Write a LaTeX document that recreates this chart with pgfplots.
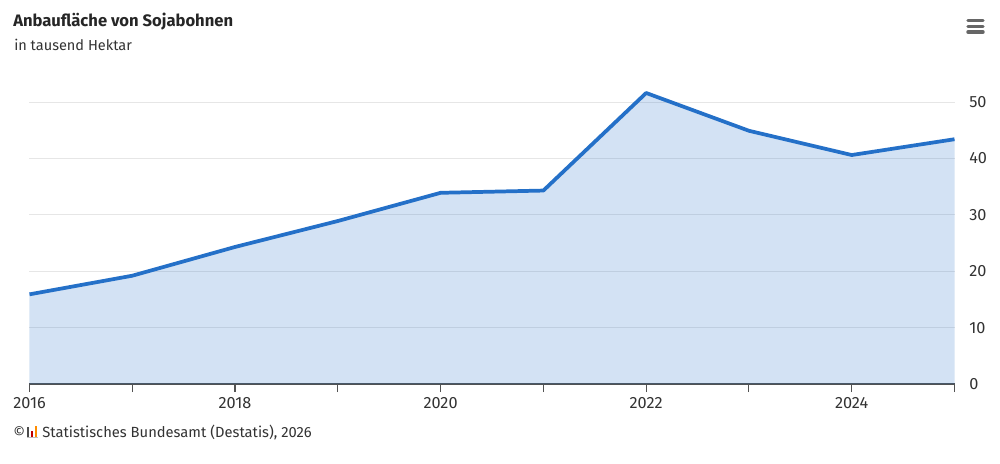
\documentclass[border=0pt]{standalone}
\usepackage{pgfplots}
\pgfplotsset{compat=1.18}
\usepackage{fontspec}
\setmainfont{Fira Sans}
\definecolor{linecol}{HTML}{2470C8}
\definecolor{txt}{HTML}{333333}
\definecolor{gridc}{HTML}{E6E6E6}
\begin{document}
\begin{tikzpicture}
\path[use as bounding box,fill=white] (0pt,0pt) rectangle (750pt,-348pt);
\begin{axis}[
  at={(22.125pt,-288pt)},anchor=south west,
  scale only axis,
  width=693.75pt,height=232.65pt,
  xmin=2016,xmax=2025,ymin=0,ymax=55,
  axis y line=right,
  axis x line=bottom,
  axis line style={-,draw=txt!85,line width=0.8pt},
  y axis line style={draw=none},
  xtick={2016,2017,...,2025},
  xticklabels={2016,,2018,,2020,,2022,,2024,},
  ytick={0,10,20,30,40,50},
  ymajorgrids,
  grid style={gridc,line width=0.75pt},
  tick style={draw=txt!85,line width=0.8pt},
  major tick length=6pt,
  ytick style={draw=none},
  xtick align=outside,
  x tick label style={font=\fontsize{12.2}{13}\selectfont,text=txt,yshift=-0.3pt},
  y tick label style={font=\fontsize{12.2}{13}\selectfont,text=txt,xshift=4.6pt},
  /pgf/number format/assume math mode=true,
  /pgf/number format/1000 sep={},
  clip=false,
]
\addplot[draw=none,fill=linecol,fill opacity=0.2] coordinates {
 (2016,0)(2016,15.9)(2017,19.2)(2018,24.3)(2019,28.9)(2020,33.9)(2021,34.3)(2022,51.6)(2023,44.9)(2024,40.6)(2025,43.4)(2025,0)} \closedcycle;
\addplot[linecol,line width=2.8pt,line join=round] coordinates {
 (2016,15.9)(2017,19.2)(2018,24.3)(2019,28.9)(2020,33.9)(2021,34.3)(2022,51.6)(2023,44.9)(2024,40.6)(2025,43.4)};
\end{axis}
\begin{scope}[x=0.75pt,y=-0.75pt]
\node[anchor=base west,inner sep=0pt,text=black!85] at (13,26.5) {\fontsize{12.45}{14}\selectfont\bfseries Anbaufläche von Sojabohnen};
\node[anchor=base west,inner sep=0pt,text=txt] at (14,50.5) {\fontsize{10.9}{12}\selectfont in tausend Hektar};
\node[anchor=base west,inner sep=0pt,text=txt] at (13,437) {\fontsize{10.9}{12}\selectfont ©};
\node[anchor=base west,inner sep=0pt,text=txt] at (42,437) {\fontsize{11.05}{12}\selectfont Statistisches Bundesamt (Destatis), 2026};
\fill[black!70] (27,427) rectangle (29,437);
\fill[red!75!black] (31,431) rectangle (33,437);
\fill[orange!90!yellow] (35,426) rectangle (37,437);
\fill[gray!50] (26.5,437) rectangle (37.5,438);
\foreach \yy in {20.5,26.5,32}
  \draw[black!60,line width=2.6pt,line cap=round] (968,\yy) -- (983,\yy);
\end{scope}
\end{tikzpicture}
\end{document}
